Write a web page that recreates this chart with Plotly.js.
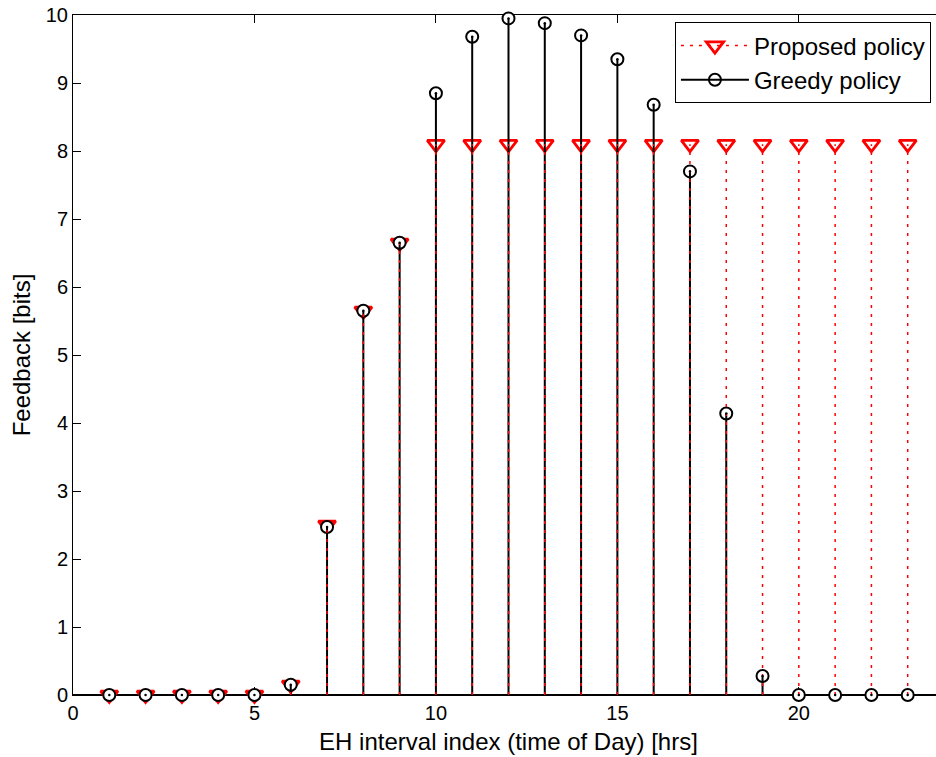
<!DOCTYPE html>
<html>
<head>
<meta charset="utf-8">
<script src="https://cdn.plot.ly/plotly-3.0.1.min.js"></script>
<style>
html, body { margin:0; padding:0; overflow:hidden; background:#fff; width:936px; height:757px; }
#chart { width:950px; height:757px; }
</style>
</head>
<body>
<div id="chart"></div>
<script>
// Data
var intervals = [1,2,3,4,5,6,7,8,9,10,11,12,13,14,15,16,17,18,19,20,21,22,23];
var proposedPolicy = [0,0,0,0,0,0.15,2.5,5.65,6.65,8.1,8.1,8.1,8.1,8.1,8.1,8.1,8.1,8.1,8.1,8.1,8.1,8.1,8.1];
var greedyPolicy = [0,0,0,0,0,0.15,2.47,5.65,6.65,8.85,9.68,9.95,9.88,9.7,9.35,8.68,7.7,4.14,0.28,0,0,0,0];
var xTickVals = [0,5,10,15,20];
var yTickVals = [0,1,2,3,4,5,6,7,8,9,10];
var seriesNames = ['Proposed policy','Greedy policy'];
var xTitle = 'EH interval index (time of Day) [hrs]';
var yTitle = 'Feedback [bits]';

function stems(xs, ys) {
  var sx = [], sy = [];
  for (var i = 0; i < xs.length; i++) {
    sx.push(xs[i], xs[i], null);
    sy.push(0, ys[i], null);
  }
  return {x: sx, y: sy};
}
var ps = stems(intervals, proposedPolicy);
var gs = stems(intervals, greedyPolicy);

var RED = '#ff0000';
var DOT = '3px,6px';
var TRI = {symbol: 'triangle-down-open', size: 15, color: RED, line: {color: RED, width: 2.8}};
var traces = [
  { // proposed triangles
    x: intervals, y: proposedPolicy, type: 'scatter', mode: 'markers', showlegend: false, cliponaxis: false,
    marker: TRI, hoverinfo: 'skip'
  },
  { // greedy circles (white filled)
    x: intervals, y: greedyPolicy, type: 'scatter', mode: 'markers', showlegend: false, cliponaxis: false,
    marker: {symbol: 'circle', size: 12, color: 'rgba(255,255,255,1)', line: {color: '#000', width: 2}},
    hoverinfo: 'skip'
  },
  { // greedy stems
    x: gs.x, y: gs.y, type: 'scatter', mode: 'lines', showlegend: false, cliponaxis: false,
    line: {color: '#000', width: 2}, hoverinfo: 'skip'
  },
  { // proposed stems
    x: ps.x, y: ps.y, type: 'scatter', mode: 'lines', showlegend: false, cliponaxis: false,
    line: {color: RED, width: 1.5, dash: DOT}, hoverinfo: 'skip'
  },
  { // stem ends
    x: intervals, y: greedyPolicy, type: 'scatter', mode: 'markers', showlegend: false, cliponaxis: false,
    marker: {symbol: 'circle', size: 2.5, color: '#000'}, hoverinfo: 'skip'
  },
  { // legend: proposed
    x: [null], y: [null], type: 'scatter', mode: 'lines+markers', name: seriesNames[0],
    line: {color: RED, width: 1.5, dash: DOT},
    marker: TRI
  },
  { // legend: greedy
    x: [null], y: [null], type: 'scatter', mode: 'lines+markers', name: seriesNames[1],
    line: {color: '#000', width: 2},
    marker: {symbol: 'circle-open', size: 12, color: '#000', line: {color: '#000', width: 2}}
  }
];

var FONT = 'Liberation Sans, Arial, Helvetica, sans-serif';
var layout = {
  width: 950, height: 757,
  margin: {l: 73, r: 6, t: 15, b: 62},
  paper_bgcolor: '#fff', plot_bgcolor: '#fff',
  font: {family: FONT, color: '#000', size: 20},
  showlegend: true,
  legend: {
    x: 0.985, y: 0.989, xanchor: 'right', yanchor: 'top',
    bgcolor: '#fff', bordercolor: '#000', borderwidth: 1,
    font: {family: FONT, size: 24, color: '#000'},
    traceorder: 'normal', itemwidth: 68, tracegroupgap: 0
  },
  xaxis: {
    range: [0, 24], tickvals: xTickVals, ticktext: xTickVals.map(String),
    ticks: 'inside', ticklen: 8, tickcolor: '#000', tickwidth: 1,
    showline: true, linecolor: '#000', linewidth: 1, mirror: 'ticks',
    showgrid: false, zeroline: false, layer: 'below traces',
    tickfont: {size: 20},
    title: {text: xTitle, font: {size: 24}, standoff: 10}
  },
  yaxis: {
    range: [0, 10], tickvals: yTickVals, ticktext: yTickVals.map(String),
    ticks: 'inside', ticklen: 8, tickcolor: '#000', tickwidth: 1,
    showline: true, linecolor: '#000', linewidth: 1, mirror: 'ticks',
    showgrid: false, zeroline: false, layer: 'below traces',
    tickfont: {size: 20},
    title: {text: yTitle, font: {size: 24}, standoff: 8}
  },
  shapes: [
    {type: 'line', xref: 'paper', yref: 'y', x0: 0, x1: 1, y0: 0, y1: 0, line: {color: '#000', width: 2}, layer: 'below'}
  ]
};

Plotly.newPlot('chart', traces, layout, {displayModeBar: false, staticPlot: true});
</script>
</body>
</html>
